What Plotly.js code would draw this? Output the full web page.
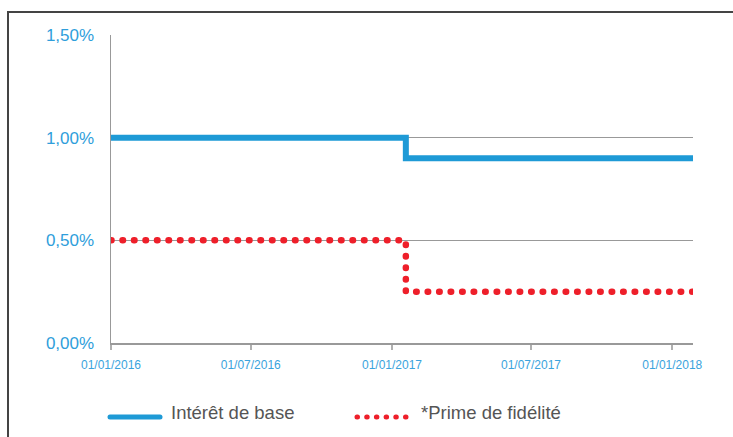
<!DOCTYPE html>
<html>
<head>
<meta charset="utf-8">
<script src="https://cdn.plot.ly/plotly-3.0.1.min.js"></script>
<style>
  html, body { margin: 0; padding: 0; background: #fff; }
  #wrap { position: relative; width: 733px; height: 437px; overflow: hidden; }
  #chart { position: absolute; left: 0; top: 0; width: 733px; height: 437px; }
  #frame { position: absolute; left: 7px; top: 11px; width: 740px; height: 440px;
           border-left: 2px solid #444; border-top: 2px solid #444; pointer-events: none; }
  #chart .js-line, #chart .shapelayer path { stroke-linecap: round; }
</style>
</head>
<body>
<div id="wrap">
  <div id="chart"></div>
  <div id="frame"></div>
</div>
<script>
// ---- data ----
const seriesNames = ["Intérêt de base", "*Prime de fidélité"];
const stepDates = ["2016-01-01", "2017-01-19", "2018-01-27"];
const baseRate = [1.00, 0.90, 0.90];
const loyaltyBonus = [0.50, 0.25, 0.25];
const xTickVals = ["2016-01-01", "2016-07-01", "2017-01-01", "2017-07-01", "2018-01-01"];
const xTickText = ["01/01/2016", "01/07/2016", "01/01/2017", "01/07/2017", "01/01/2018"];
const yTickVals = [0, 0.5, 1.0, 1.5];
const yTickText = ["0,00%", "0,50%", "1,00%", "1,50%"];

const blue = "#1e9ad6";
const red = "#ee1f2a";
const font = "Liberation Sans, Arial, Helvetica, sans-serif";

const traces = [
  { x: stepDates, y: baseRate, name: seriesNames[0], type: "scatter", mode: "lines",
    line: { shape: "hv", color: blue, width: 6 }, showlegend: false, hoverinfo: "skip" },
  { x: stepDates, y: loyaltyBonus, name: seriesNames[1], type: "scatter", mode: "lines",
    line: { shape: "hv", color: red, width: 6.5, dash: "0.5px,11px" }, showlegend: false, hoverinfo: "skip" }
];

// legend drawn as shapes + annotations (paper coords)
const L = 111, W = 582, T = 35, H = 308;
const px = v => (v - L) / W;
const py = v => (T + H - v) / H;

const layout = {
  width: 733, height: 437,
  margin: { l: L, r: 733 - L - W, t: T, b: 437 - T - H, pad: 0 },
  paper_bgcolor: "#fff", plot_bgcolor: "#fff",
  font: { family: font, color: "#555" },
  xaxis: {
    type: "date",
    range: ["2016-01-01", "2018-01-28"],
    tickvals: xTickVals, ticktext: xTickText,
    ticks: "outside", ticklen: 5, tickwidth: 2, tickcolor: "#b0b0b0",
    tickfont: { size: 12, color: "#3aa3dd", family: font },
    ticklabelstandoff: 5,
    showgrid: false, zeroline: false,
    showline: true, linecolor: "#999", linewidth: 1.5,
    fixedrange: true
  },
  yaxis: {
    range: [0, 1.5],
    tickvals: yTickVals, ticktext: yTickText,
    tickfont: { size: 17, color: "#2f9edb", family: font },
    ticks: "", ticklabelstandoff: 12,
    showgrid: true, gridcolor: "#999", gridwidth: 1,
    zeroline: false,
    showline: true, linecolor: "#999", linewidth: 1.5,
    fixedrange: true
  },
  shapes: [
    { type: "line", xref: "paper", yref: "paper", x0: px(110), x1: px(160), y0: py(417), y1: py(417),
      line: { color: blue, width: 5 } },
    { type: "line", xref: "paper", yref: "paper", x0: px(357), x1: px(412), y0: py(417), y1: py(417),
      line: { color: red, width: 5, dash: "0.5px,9.2px" } }
  ],
  annotations: [
    { xref: "paper", yref: "paper", x: px(169), y: py(412), xanchor: "left", yanchor: "middle",
      text: seriesNames[0], showarrow: false, font: { size: 18.5, color: "#555", family: font } },
    { xref: "paper", yref: "paper", x: px(419), y: py(412), xanchor: "left", yanchor: "middle",
      text: seriesNames[1], showarrow: false, font: { size: 18.5, color: "#555", family: font } }
  ],
  showlegend: false
};

Plotly.newPlot("chart", traces, layout, { displayModeBar: false, staticPlot: true });
</script>
</body>
</html>
